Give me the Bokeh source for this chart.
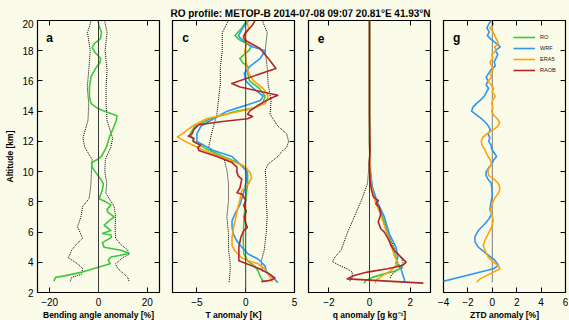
from bokeh.plotting import figure
from bokeh.models import (Range1d, LinearAxis, FixedTicker, Span, Label, Legend,
                          LegendItem)
from bokeh.layouts import row, column
from bokeh.embed import file_html
from bokeh.resources import INLINE

# ---------------- data ----------------
title_text = "RO profile: METOP-B 2014-07-08 09:07 20.81°E 41.93°N"
alt_ticks = [2, 4, 6, 8, 10, 12, 14, 16, 18, 20]
series_names = ["RO", "WRF", "ERA5", "RAOB"]

# panel a: bending angle anomaly [%]
a_ticks = [-20, 0, 20]
a_ro_alt = [20.0, 19.6, 19.2, 18.8, 18.5, 18.2, 17.9, 17.5, 17.2, 16.9, 16.6, 16.3, 15.6, 14.9,
            14.5, 14.2, 14.0, 13.7, 13.4, 12.8, 12.3, 11.6, 11.0, 10.8, 10.6, 10.3, 9.9, 9.5,
            9.2, 8.8, 8.4, 8.2, 8.0, 7.8, 7.5, 7.3, 7.0, 6.8, 6.45, 6.1, 5.9, 5.8, 5.65, 5.3,
            5.0, 4.8, 4.6, 4.45, 4.35, 4.15, 4.0, 3.9, 3.65, 3.35, 3.1, 3.0, 2.75]
a_ro = [-0.2, 0.3, 1.2, 0.8, -1.5, -2.6, -1.5, 0.9, 0.6, -0.9, -2.0, -3.0, -3.7, -3.7,
        -3.0, -0.5, 2.5, 7.6, 7.3, 5.9, 4.5, 3.2, 1.2, -0.5, -2.8, -2.6, -1.0, 0.9,
        2.0, 1.6, 0.7, 0.3, 3.0, 5.1, 3.5, 3.9, 6.4, 4.8, 2.3, 5.1, 1.6, 5.1, 5.3, 1.6,
        2.3, 9.2, 12.6, 8.5, 5.1, 4.0, 4.4, 4.8, -0.4, -6.6, -14.0, -17.6, -18.3]
a_env_alt = [20.0, 19.2, 18.0, 16.7, 15.6, 14.5, 13.4, 12.2, 11.6, 10.8, 10.0, 9.2, 8.6, 8.2,
             7.7, 7.0, 6.35, 5.6, 5.2, 4.8, 4.5, 4.3, 3.9, 3.6, 3.2, 3.0, 2.7]
a_env_lo = [-3.0, -4.5, -3.4, -4.0, -4.6, -4.0, -4.3, -6.4, -5.6, -2.6, -2.9, -3.1, -3.5, -3.9,
            -6.5, -7.2, -8.6, -6.5, -9.0, -11.0, -11.8, -12.4, -8.6, -6.5, -7.0, -11.0, -11.7]
a_env_hi = [2.5, 3.5, 2.7, 3.5, 3.1, 3.1, 3.5, 5.8, 5.0, 2.8, 2.6, 3.4, 3.0, 4.4,
            6.4, 7.0, 6.8, 7.0, 9.0, 12.0, 12.3, 9.9, 7.0, 7.8, 10.6, 12.0, 12.6]

# panel c: temperature anomaly [K]
c_ticks = [-5, 0, 5]
c_ro_alt = [20, 19.5, 19.0, 18.7, 18.3, 18.0, 17.5, 17.2, 17.0, 16.5, 16.0, 15.5, 15.0, 14.6,
            14.2, 14.0, 13.5, 13.0, 12.5, 12.0, 11.5, 11.0, 10.6, 10.2, 9.8, 9.2, 8.5, 7.5,
            6.5, 5.5, 4.55, 4.1, 3.75, 3.4, 3.1, 2.75]
c_ro = [0.1, -0.4, -1.1, -0.6, 0.6, 0.3, -0.6, -0.3, 0.2, 0.2, 0.4, 1.4, 2.0, 1.8,
        0.8, -1.0, -3.6, -5.2, -5.7, -5.3, -4.0, -2.3, -0.8, 0.1, 0.2, 0.2, 0.05, -0.1,
        -0.2, -0.25, -0.2, 0.2, 0.9, 1.3, 1.45, 1.8]
c_wrf_alt = [20, 19.5, 19.0, 18.8, 18.3, 18.0, 17.5, 17.0, 16.5, 16.0, 15.5, 15.0, 14.7, 14.3,
             14.0, 13.5, 13.0, 12.5, 12.0, 11.4, 11.0, 10.5, 10.1, 9.7, 9.2, 8.5, 7.8, 7.2,
             6.75, 6.3, 5.85, 5.4, 5.0, 4.55, 4.2, 4.0, 3.75, 3.4, 3.1, 2.85, 2.65]
c_wrf = [0.3, -0.3, -0.75, -0.5, 0.5, 2.0, 1.5, 0.5, -0.15, 0.0, 0.8, 1.8, 1.5, -0.4,
         -1.9, -3.3, -4.6, -5.0, -5.0, -3.3, -1.4, -0.6, 0.0, 0.15, 0.0, -0.25, -0.6, -1.1,
         -1.4, -1.4, -1.25, -0.9, -0.4, 0.25, 1.3, 1.6, 2.0, 2.1, 2.6, 3.0, 3.3]
c_era5_alt = [20, 19.5, 19.0, 18.5, 18.0, 17.5, 17.0, 16.5, 16.0, 15.5, 15.0, 14.5, 14.2, 14.0,
              13.8, 13.5, 13.0, 12.5, 12.3, 12.0, 11.5, 11.0, 10.4, 9.95, 9.6, 9.2, 8.75, 8.1,
              7.5, 7.0, 6.3, 5.65, 5.1, 4.75, 4.3, 4.1, 3.9, 3.65, 3.2, 2.85, 2.7]
c_era5 = [0.1, 0.3, -0.1, 0.1, -0.1, 0.0, 0.1, 0.3, 0.8, 1.8, 2.3, 2.0, 0.8, -0.6,
          -2.0, -4.0, -5.5, -6.5, -7.0, -6.2, -4.6, -2.6, -0.25, 0.45, 0.6, 0.3, -0.4, -0.6,
          -0.85, -1.0, -1.25, -1.4, -1.4, -1.1, -0.4, 0.25, 1.3, 1.8, 2.3, 2.65, 2.75]
c_raob_alt = [20.0, 19.7, 19.15, 18.9, 18.7, 18.15, 17.5, 16.83, 15.83, 15.6, 15.05, 14.8, 14.4,
              14.0, 13.8, 13.65, 13.5, 13.3, 13.1, 12.8, 12.5, 12.35, 12.2, 12.0, 11.75, 11.6,
              11.4, 11.0, 10.6, 10.3, 9.95, 9.7, 9.5, 9.2, 8.9, 8.6, 8.5, 8.1, 7.75, 7.4, 7.0,
              6.6, 6.3, 6.1, 5.65, 5.0, 4.1, 3.9, 3.55, 3.2, 2.95, 2.8, 2.72]
c_raob = [0.95, 0.7, -0.07, -0.24, -0.07, 1.46, 2.3, 3.1, -1.43, -0.58, 3.3, 2.4, 1.3,
          0.4, 0.2, 0.7, 0.2, -2.6, -4.8, -5.3, -5.5, -5.9, -5.3, -5.4, -4.6, -4.9,
          -4.8, -2.95, -1.4, -0.9, -0.9, -0.75, -0.4, -0.5, -0.6, -0.9, -0.35, 0.0, -0.2, 0.05, -0.15,
          0.0, 0.17, -0.2, -0.5, -0.7, -0.7, 0.1, 1.46, 2.5, 3.0, 2.5, 1.6]
c_env_lo_alt = [20, 19.2, 18.0, 16.9, 15.8, 14.7, 13.8, 13.0, 12.5, 11.6, 11.2, 10.8, 10.1, 9.2,
                8.1, 7.0, 5.9, 4.8, 4.1, 3.4, 2.65]
c_env_lo = [-1.77, -2.4, -2.4, -2.6, -2.6, -2.8, -2.95, -3.3, -3.5, -3.8, -3.2, -2.2, -1.93, -1.76,
            -1.76, -1.93, -1.76, -1.76, -1.6, -1.6, -1.7]
c_env_hi_alt = [20, 19.2, 18.0, 16.9, 15.8, 14.7, 13.8, 13.0, 12.5, 12.0, 11.6, 11.4, 11.0, 10.5,
                10.1, 9.2, 8.1, 7.0, 5.9, 4.8, 4.1, 3.4]
c_env_hi = [1.7, 2.2, 2.0, 2.2, 2.3, 2.6, 2.5, 3.3, 4.2, 4.4, 4.2, 3.8, 3.3, 2.3,
            2.0, 2.1, 2.1, 2.2, 2.1, 1.9, 1.6, 1.7]

# panel e: specific humidity anomaly [g/kg]
e_ticks = [-2, 0, 2]
e_ro_alt = [20, 12, 10, 9.0, 8.09, 7.0, 5.9, 5.0, 4.34, 3.9, 3.65, 3.4, 3.2, 3.0, 2.79, 2.62]
e_ro = [0.0, 0.0, 0.03, 0.1, 0.31, 0.64, 0.89, 1.14, 1.3, 1.39, 1.63, 1.22, 0.64, 0.15, -0.18, -0.27]
e_wrf_alt = [20, 12, 10, 9.0, 8.09, 7.0, 5.9, 5.0, 4.34, 3.9, 3.57, 3.2, 2.85, 2.65]
e_wrf = [0.0, 0.0, 0.05, 0.13, 0.36, 0.73, 0.97, 1.3, 1.39, 1.3, 1.55, 1.63, 1.72, 1.72]
e_era5_alt = [20, 12, 10, 9.0, 8.09, 7.0, 5.9, 5.0, 4.34, 4.0, 3.79, 3.45, 3.12, 2.79, 2.62]
e_era5 = [0.0, 0.0, 0.03, 0.1, 0.26, 0.59, 0.86, 1.09, 1.25, 1.39, 1.3, 1.06, 0.64, 0.31, 0.28]
e_raob_alt = [20, 14, 12, 11.4, 10.52, 10.08, 9.42, 8.75, 8.31, 8.09, 7.87, 7.65, 7.21, 6.66,
              6.22, 6.0, 5.55, 5.11, 4.78, 4.34, 4.01, 3.79, 3.57, 3.35, 3.12, 2.9, 2.62]
e_raob = [0.0, 0.0, 0.02, 0.03, -0.02, 0.01, 0.03, 0.1, 0.2, 0.43, 0.31, 0.48, 0.56, 0.43,
          0.56, 0.73, 0.92, 1.06, 1.22, 1.55, 1.8, 1.63, 0.89, -0.1, -0.76, -1.1, 2.65]
e_env_lo_alt = [11.0, 10.0, 9.2, 8.1, 7.0, 5.9, 4.8, 4.34, 4.05, 3.8, 3.57, 3.35, 3.0, 2.7]
e_env_lo = [0.0, -0.05, -0.1, -0.4, -0.75, -1.1, -1.4, -1.7, -1.82, -1.5, -1.1, -0.85, -0.85, -1.0]
e_env_hi_alt = [11.0, 10.0, 9.0, 8.0, 7.0, 6.0, 5.0, 4.3, 4.0, 3.6, 3.2, 2.9]
e_env_hi = [0.0, 0.05, 0.15, 0.35, 0.65, 0.9, 1.2, 1.55, 1.65, 1.5, 1.1, 1.0]

# panel g: zenith total delay anomaly [%]  (RO is the reference, RAOB not shown)
g_ticks = [-4, -2, 0, 2, 4, 6]
g_ref_alt = [20.0, 2.65]
g_ref = [0.0, 0.0]
g_wrf_alt = [20.0, 19.75, 19.5, 19.25, 19.0, 18.75, 18.5, 18.25, 18.0, 17.75, 17.5, 17.25,
             17.0, 16.75, 16.5, 16.25, 16.0, 15.75, 15.5, 15.25, 15.0, 14.75, 14.5, 14.25,
             14.0, 13.75, 13.5, 13.25, 13.0, 12.75, 12.5, 12.25, 12.0, 11.75, 11.5, 11.25,
             11.0, 10.75, 10.5, 10.25, 10.0, 9.75, 9.5, 9.25, 9.0, 8.5, 8.0, 7.5, 7.2, 6.9,
             6.55, 6.1, 5.7, 5.35, 5.0, 4.56, 4.12, 3.8, 3.57, 2.68]
g_wrf = [-0.05, -0.3, -0.45, -0.25, -0.4, -0.1, 0.3, 0.65, 0.25, 0.45, 0.3, 0.15,
         0.25, -0.1, -0.3, -0.5, -0.35, -0.5, -0.3, -0.5, -0.65, -0.95, -1.3, -1.6,
         -1.7, -1.3, -0.9, -0.55, -0.3, -0.15, -0.35, -0.2, -0.3, -0.1, -0.05, 0.15,
         0.35, 0.1, -0.05, -0.3, -0.5, -0.52, -0.35, -0.1, -0.05, 0.0, -0.1, -0.2, -0.05, -0.25,
         -0.6, -1.15, -1.42, -1.42, -1.15, -0.46, 0.22, 0.5, 0.1, -4.3]
g_era5_alt = [20.0, 19.75, 19.5, 19.25, 19.0, 18.75, 18.5, 18.25, 18.0, 17.75, 17.5, 17.25,
              17.0, 16.75, 16.5, 16.25, 16.0, 15.75, 15.5, 15.25, 15.0, 14.75, 14.5, 14.25,
              14.0, 13.75, 13.5, 13.25, 13.0, 12.75, 12.5, 12.25, 12.0, 11.75, 11.5, 11.25,
              11.0, 10.75, 10.5, 10.25, 10.0, 9.75, 9.5, 9.25, 9.0, 8.75, 8.5, 8.25, 8.0, 7.5,
              7.2, 6.77, 6.33, 5.89, 5.45, 5.11, 4.78, 4.34, 4.01, 3.79, 3.57, 3.23, 2.9, 2.68]
g_era5 = [-0.05, 0.1, -0.2, 0.05, 0.2, 0.35, 0.5, 0.2, 0.3, -0.05, 0.05, -0.2,
          -0.05, 0.05, -0.2, -0.05, -0.35, -0.1, 0.1, 0.0, 0.25, 0.05, -0.05, 0.05,
          -0.05, 0.1, 0.4, 0.6, 0.45, 0.05, -0.45, -0.8, -0.9, -0.85, -0.65, -0.5,
          -0.35, -0.15, -0.05, -0.25, -0.35, -0.3, 0.15, 0.45, 0.6, 0.6, 0.45, 0.2, 0.05, -0.14,
          -0.05, 0.08, -0.05, -0.33, -0.6, -0.74, -0.6, -0.33, 0.08, 0.49, 0.63, -0.19, -1.0, -1.28]

# ---------------- style ----------------
BG = "#fafbe8"
FONT = "Liberation Sans"
COLORS = {"RO": "#3cc83c", "WRF": "#2f96f2", "ERA5": "#ffa20a", "RAOB": "#b2262a"}


def minus(v):
    return str(v).replace("-", "\u2212")


def make_panel(xr, xticks, xtitle, letter, letter_x, bl, br, ylabel=None):
    p = figure(frame_width=122, frame_height=272, x_range=Range1d(*xr), y_range=Range1d(2, 20),
               min_border_left=bl, min_border_right=br, min_border_top=1, min_border_bottom=27,
               toolbar_location=None, output_backend="svg",
               background_fill_color=BG, border_fill_color=BG,
               outline_line_color="black", outline_line_width=1.2)
    p.grid.visible = False
    top = LinearAxis()
    right = LinearAxis()
    p.add_layout(top, "above")
    p.add_layout(right, "right")
    xaxes = [p.below[0], top]
    yaxes = [p.left[0], right]
    for ax in xaxes + yaxes:
        ax.axis_line_color = None
        ax.major_tick_in = 5
        ax.major_tick_out = 0
        ax.major_tick_line_color = "black"
        ax.major_tick_line_width = 1
        ax.minor_tick_line_color = None
        ax.major_label_text_font = FONT
        ax.major_label_text_color = "black"
        ax.major_label_text_font_size = "10px"
        ax.axis_label_text_font = FONT
        ax.axis_label_text_font_style = "bold"
        ax.axis_label_text_font_size = "8.5px"
        ax.axis_label_text_color = "black"
    for ax in xaxes:
        ax.ticker = FixedTicker(ticks=xticks)
        ax.major_label_overrides = {t: minus(t) for t in xticks}
    for ax in yaxes:
        ax.ticker = FixedTicker(ticks=alt_ticks)
    bottom = p.below[0]
    bottom.axis_label = xtitle
    bottom.major_label_standoff = 5
    bottom.axis_label_standoff = 1
    hidden = [top, right]
    left = p.left[0]
    if ylabel:
        left.axis_label = ylabel
        left.major_label_standoff = 4
        left.axis_label_standoff = 4
    else:
        hidden.append(left)
    for ax in hidden:
        ax.major_label_text_color = None
        ax.major_label_standoff = 0
    p.add_layout(Label(x=letter_x, y=18.82, text=letter, text_font=FONT, text_font_style="bold",
                       text_font_size="12px", text_baseline="alphabetic", text_align="left",
                       text_color="black"))
    return p


def zero_line(p):
    p.add_layout(Span(location=0, dimension="height", line_color="#3a3a3a", line_width=1))


def envelope(p, alt, vals):
    return p.line(vals, alt, line_color="black", line_width=1, line_dash="1 1")


def series(p, alt, vals, name):
    return p.line(vals, alt, line_color=COLORS[name], line_width=1.6, line_join="round")


# panel a
pa = make_panel((-25, 25), a_ticks, "Bending angle anomaly [%]", "a", -21.4, 29, 6, "Altitude [km]")
zero_line(pa)
envelope(pa, a_env_alt, a_env_lo)
envelope(pa, a_env_alt, a_env_hi)
series(pa, a_ro_alt, a_ro, "RO")

# panel c
pc = make_panel((-7.5, 5), c_ticks, "T anomaly [K]", "c", -6.51, 7, 7)
zero_line(pc)
envelope(pc, c_env_lo_alt, c_env_lo)
envelope(pc, c_env_hi_alt, c_env_hi)
series(pc, c_ro_alt, c_ro, "RO")
series(pc, c_wrf_alt, c_wrf, "WRF")
series(pc, c_era5_alt, c_era5, "ERA5")
series(pc, c_raob_alt, c_raob, "RAOB")

# panel e
pe = make_panel((-3, 3), e_ticks, "q anomaly [g kg\u207b\u00b9]", "e", -2.55, 7, 6)
zero_line(pe)
envelope(pe, e_env_lo_alt, e_env_lo)
envelope(pe, e_env_hi_alt, e_env_hi)
series(pe, e_ro_alt, e_ro, "RO")
series(pe, e_wrf_alt, e_wrf, "WRF")
series(pe, e_era5_alt, e_era5, "ERA5")
series(pe, e_raob_alt, e_raob, "RAOB")

# panel g
pg = make_panel((-4, 6), g_ticks, "ZTD anomaly [%]", "g", -3.23, 7, 3)
envelope(pg, g_ref_alt, g_ref)
r_ro = series(pg, g_ref_alt, g_ref, "RO")
r_ro.visible = False
r_raob = series(pg, g_ref_alt, g_ref, "RAOB")
r_raob.visible = False
renderers = {
    "RO": r_ro,
    "WRF": series(pg, g_wrf_alt, g_wrf, "WRF"),
    "ERA5": series(pg, g_era5_alt, g_era5, "ERA5"),
    "RAOB": r_raob,
}
legend = Legend(items=[LegendItem(label=n, renderers=[renderers[n]]) for n in series_names],
                location=(70, 217), border_line_color=None, background_fill_alpha=0,
                inactive_fill_alpha=0, padding=0, margin=0, spacing=1, glyph_width=22,
                glyph_height=10, label_height=10, label_standoff=5, label_text_font=FONT,
                label_text_font_size="5.6px", label_text_color="#222222",
                click_policy="none")
pg.add_layout(legend)

# title strip
pt = figure(width=560, height=11, x_range=Range1d(0, 560), y_range=Range1d(0, 11),
            min_border=0, toolbar_location=None, output_backend="svg",
            x_axis_type=None, y_axis_type=None,
            background_fill_color=BG, border_fill_color=BG, outline_line_color=None)
pt.grid.visible = False
pt.add_layout(Label(x=298, y=7.0, text=title_text, text_align="center", text_baseline="middle",
                    text_font=FONT, text_font_style="bold", text_font_size="10px",
                    text_color="black"))

layout = column(pt, row(pa, pc, pe, pg, spacing=0), spacing=0)
html = file_html(layout, INLINE)
page_css = ("<style>html{margin:0!important;padding:0!important;overflow:hidden!important;"
            "background:%s!important;}"
            "body{margin:0!important;padding:8px 0 0 2px!important;overflow:hidden!important;"
            "background:%s!important;height:auto!important;display:block!important;"
            "box-sizing:content-box!important;}</style>" % (BG, BG))
html = html.replace("</head>", page_css + "</head>", 1)
open("out.html", "w").write(html)
